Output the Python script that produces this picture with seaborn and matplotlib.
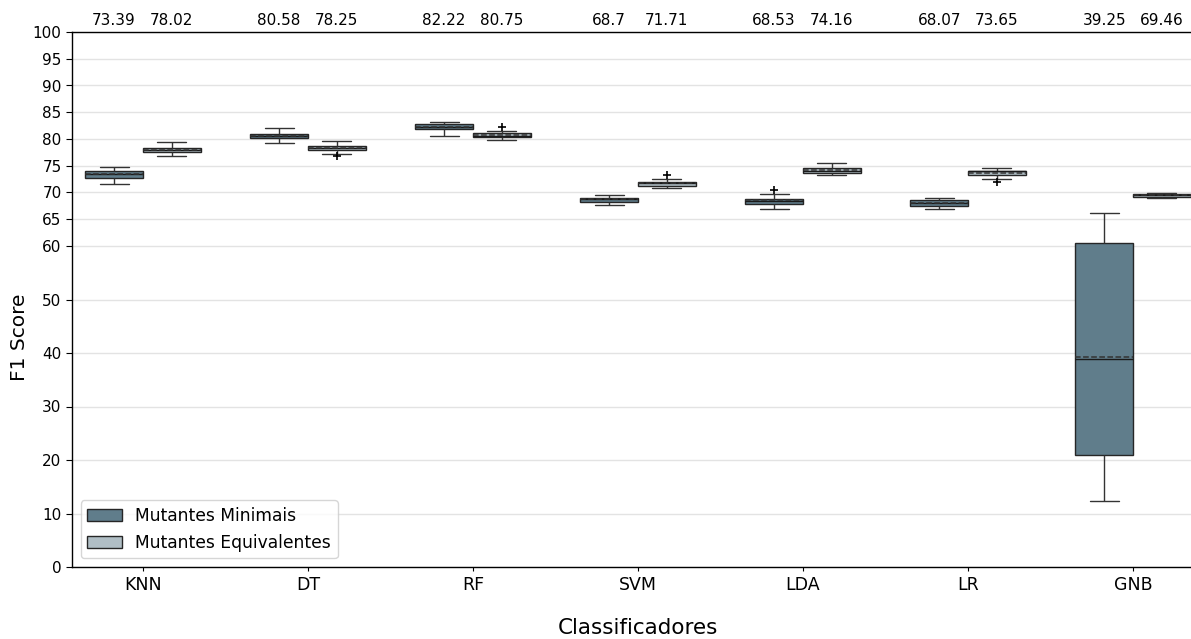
import matplotlib
matplotlib.use("Agg")
import matplotlib.pyplot as plt
import numpy as np
import pandas as pd
import seaborn as sns

# Classifiers evaluated and the two mutant groups
classifiers = ["KNN", "DT", "RF", "SVM", "LDA", "LR", "GNB"]
groups = ["Mutantes Minimais", "Mutantes Equivalentes"]

# F1 score of each of the 10 cross-validation folds, minimal mutants
minimal_scores = {
    "KNN": [71.56, 72.50, 72.55, 72.94, 73.30, 73.60, 73.90, 74.10, 74.70, 74.75],
    "DT":  [79.19, 79.60, 80.10, 80.45, 80.50, 80.65, 80.90, 81.05, 81.36, 82.00],
    "RF":  [80.50, 81.40, 81.80, 82.10, 82.20, 82.31, 82.80, 82.90, 83.00, 83.19],
    "SVM": [67.63, 68.10, 68.15, 68.45, 68.70, 68.90, 69.00, 69.08, 69.49, 69.50],
    "LDA": [66.88, 67.70, 67.80, 68.00, 68.40, 68.60, 68.80, 68.87, 69.81, 70.44],
    "LR":  [66.88, 67.30, 67.45, 67.65, 67.96, 68.20, 68.55, 68.65, 69.00, 69.06],
    "GNB": [12.31, 12.50, 20.00, 23.52, 36.00, 41.80, 55.00, 62.41, 62.71, 66.25],
}

# F1 score of each of the 10 cross-validation folds, equivalent mutants
equivalent_scores = {
    "KNN": [76.81, 77.40, 77.45, 77.65, 77.91, 78.05, 78.25, 78.40, 78.90, 79.38],
    "DT":  [76.75, 77.13, 77.90, 78.05, 78.25, 78.40, 78.60, 78.75, 79.11, 79.56],
    "RF":  [79.88, 79.90, 80.38, 80.42, 80.44, 80.51, 80.90, 81.20, 81.56, 82.31],
    "SVM": [70.81, 71.00, 71.15, 71.30, 71.64, 71.75, 71.85, 71.97, 72.44, 73.19],
    "LDA": [73.25, 73.30, 73.65, 73.81, 73.95, 74.15, 74.55, 74.70, 74.80, 75.44],
    "LR":  [72.00, 72.50, 73.10, 73.70, 73.95, 73.95, 73.95, 74.10, 74.60, 74.65],
    "GNB": [68.95, 69.10, 69.20, 69.40, 69.50, 69.50, 69.60, 69.70, 69.80, 69.85],
}

y_ticks = [0, 10, 20, 30, 40, 50, 60, 65, 70, 75, 80, 85, 90, 95, 100]
palette = ["#607d8b", "#b0bec5"]

rows = []
for group, scores in zip(groups, [minimal_scores, equivalent_scores]):
    for clf in classifiers:
        for v in scores[clf]:
            rows.append({"Classificadores": clf, "Grupo": group, "F1 Score": v})
df = pd.DataFrame(rows)

sns.set_style("ticks")
plt.rcParams["font.family"] = ["DejaVu Sans"]
plt.rcParams["text.color"] = "black"
plt.rcParams["axes.labelcolor"] = "black"
plt.rcParams["xtick.color"] = "black"
plt.rcParams["ytick.color"] = "black"

fig = plt.figure(figsize=(11.91, 6.39), dpi=100)
ax = fig.add_axes([72 / 1191, 1 - 567 / 639, 1132 / 1191, 535 / 639])

box_width = 0.7
sns.boxplot(
    data=df, x="Classificadores", y="F1 Score", hue="Grupo",
    order=classifiers, hue_order=groups, palette=palette, saturation=1,
    width=box_width, gap=0, linewidth=1, linecolor="#262626",
    showmeans=True, meanline=True,
    meanprops=dict(color="#333333", linestyle="--", linewidth=1.1),
    medianprops=dict(color="#1a1a1a", linewidth=1),
    whiskerprops=dict(color="#333333", linewidth=1),
    capprops=dict(color="#333333", linewidth=1),
    flierprops=dict(marker="+", markersize=6, markeredgecolor="black",
                    markeredgewidth=1.2),
    ax=ax,
)

ax.set_ylim(0, 100)
ax.set_xlim(-0.43, len(classifiers) - 0.57)
ax.set_yticks(y_ticks)
ax.tick_params(axis="y", labelsize=11, length=4, color="black", labelcolor="black")
ax.tick_params(axis="x", labelsize=12.5, length=3, color="black", labelcolor="black")
ax.yaxis.grid(True, color="#e3e3e3", linewidth=1)
ax.set_axisbelow(True)
for side in ["left", "bottom", "top"]:
    ax.spines[side].set_visible(True)
    ax.spines[side].set_color("black")
    ax.spines[side].set_linewidth(1)
ax.spines["right"].set_visible(False)

ax.set_xlabel("Classificadores", fontsize=15.5, labelpad=17, color="black")
ax.set_ylabel("F1 Score", fontsize=14.5, color="black")
ax.yaxis.set_label_coords(-0.038, 0.43)

# Mean F1 of every box, written above the plot area
for gi, scores in enumerate([minimal_scores, equivalent_scores]):
    offset = (gi - 0.5) * box_width / 2
    for ci, clf in enumerate(classifiers):
        mean_val = round(float(np.mean(scores[clf])), 2)
        ax.text(ci + offset, 102.2, f"{mean_val}", ha="center", va="center",
                fontsize=11, color="black", clip_on=False)

sns.move_legend(ax, "lower left", title=None, fontsize=12.3, frameon=True)
for t in ax.get_legend().get_texts():
    t.set_color("black")

fig.savefig("out.png", dpi=100)
